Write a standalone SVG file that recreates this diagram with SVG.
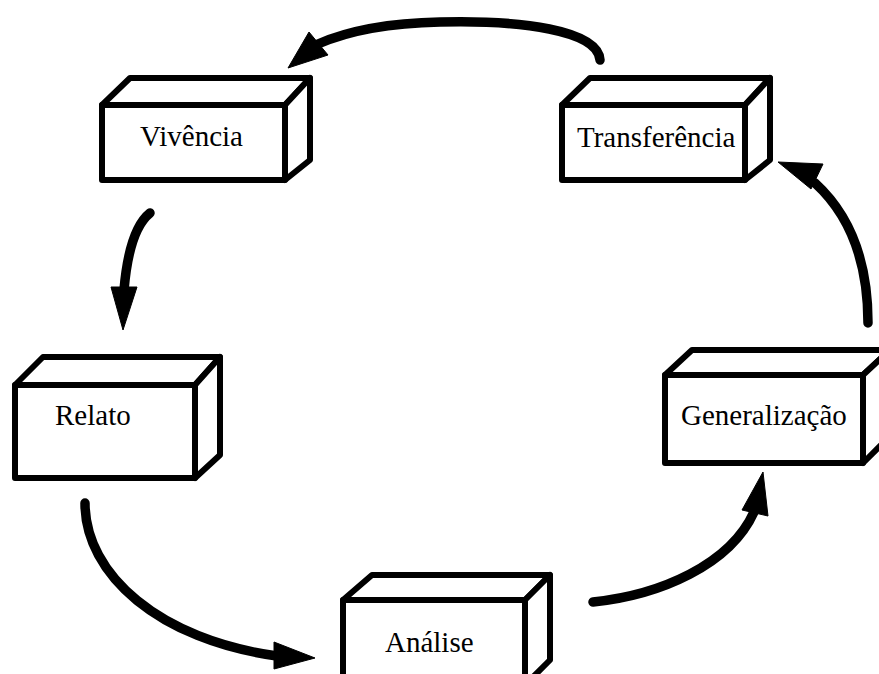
<svg xmlns="http://www.w3.org/2000/svg" width="879" height="674" viewBox="0 0 879 674">
  <style>
    .face { fill: #ffffff; stroke: #000000; stroke-width: 6; stroke-linejoin: round; }
    .label { font-family: "Liberation Serif", "Times New Roman", serif; font-size: 29px; fill: #000000; }
    .flow { fill: none; stroke: #000000; stroke-width: 9.5; stroke-linecap: round; }
    .head { fill: #000000; stroke: #000000; stroke-width: 1; stroke-linejoin: miter; }
  </style>
  <rect width="879" height="674" fill="#ffffff"/>

  <!-- stage boxes: front face, top face, right face -->
  <g id="vivencia">
    <polygon class="face" points="102,105 130,78 310,78 285,105"/>
    <polygon class="face" points="285,105 310,78 310,160 285,180"/>
    <rect class="face" x="102" y="105" width="183" height="75"/>
    <text class="label" x="140" y="146">Vivência</text>
  </g>

  <g id="transferencia">
    <polygon class="face" points="562,105 590,78 770,78 745,105"/>
    <polygon class="face" points="745,105 770,78 770,160 745,180"/>
    <rect class="face" x="562" y="105" width="183" height="75"/>
    <text class="label" x="577" y="147">Transferência</text>
  </g>

  <g id="relato">
    <polygon class="face" points="15,385 43,357 220,357 195,385"/>
    <polygon class="face" points="195,385 220,357 220,455 195,478"/>
    <rect class="face" x="15" y="385" width="180" height="93"/>
    <text class="label" x="55" y="425">Relato</text>
  </g>

  <g id="generalizacao">
    <polygon class="face" points="665,375 692,350 890,350 863,375"/>
    <polygon class="face" points="863,375 890,350 890,436 863,463"/>
    <rect class="face" x="665" y="375" width="198" height="88"/>
    <text class="label" x="681" y="425">Generalização</text>
  </g>

  <g id="analise">
    <polygon class="face" points="343,600 372,575 550,575 525,600"/>
    <polygon class="face" points="525,600 550,575 550,660 525,685"/>
    <rect class="face" x="343" y="600" width="182" height="90"/>
    <text class="label" x="385" y="652">Análise</text>
  </g>

  <!-- cycle arrows -->
  <g id="connectors">
    <path class="flow" d="M600,60 C598,30 520,20 440,22 C390,23 350,30 318,44"/>
    <polygon class="head" points="288,68 309,32 328,55"/>

    <path class="flow" d="M150,213 C135,225 127,255 124,290"/>
    <polygon class="head" points="123,330 111,287 137,287"/>

    <path class="flow" d="M85,503 C85,575 160,640 277,656"/>
    <polygon class="head" points="315,658 274,642 274,669"/>

    <path class="flow" d="M593,602 C660,595 730,565 754,512"/>
    <polygon class="head" points="763,472 742,510 768,516"/>

    <path class="flow" d="M868,323 C868,260 850,215 815,183"/>
    <polygon class="head" points="778,162 823,164 811,189"/>
  </g>
</svg>
